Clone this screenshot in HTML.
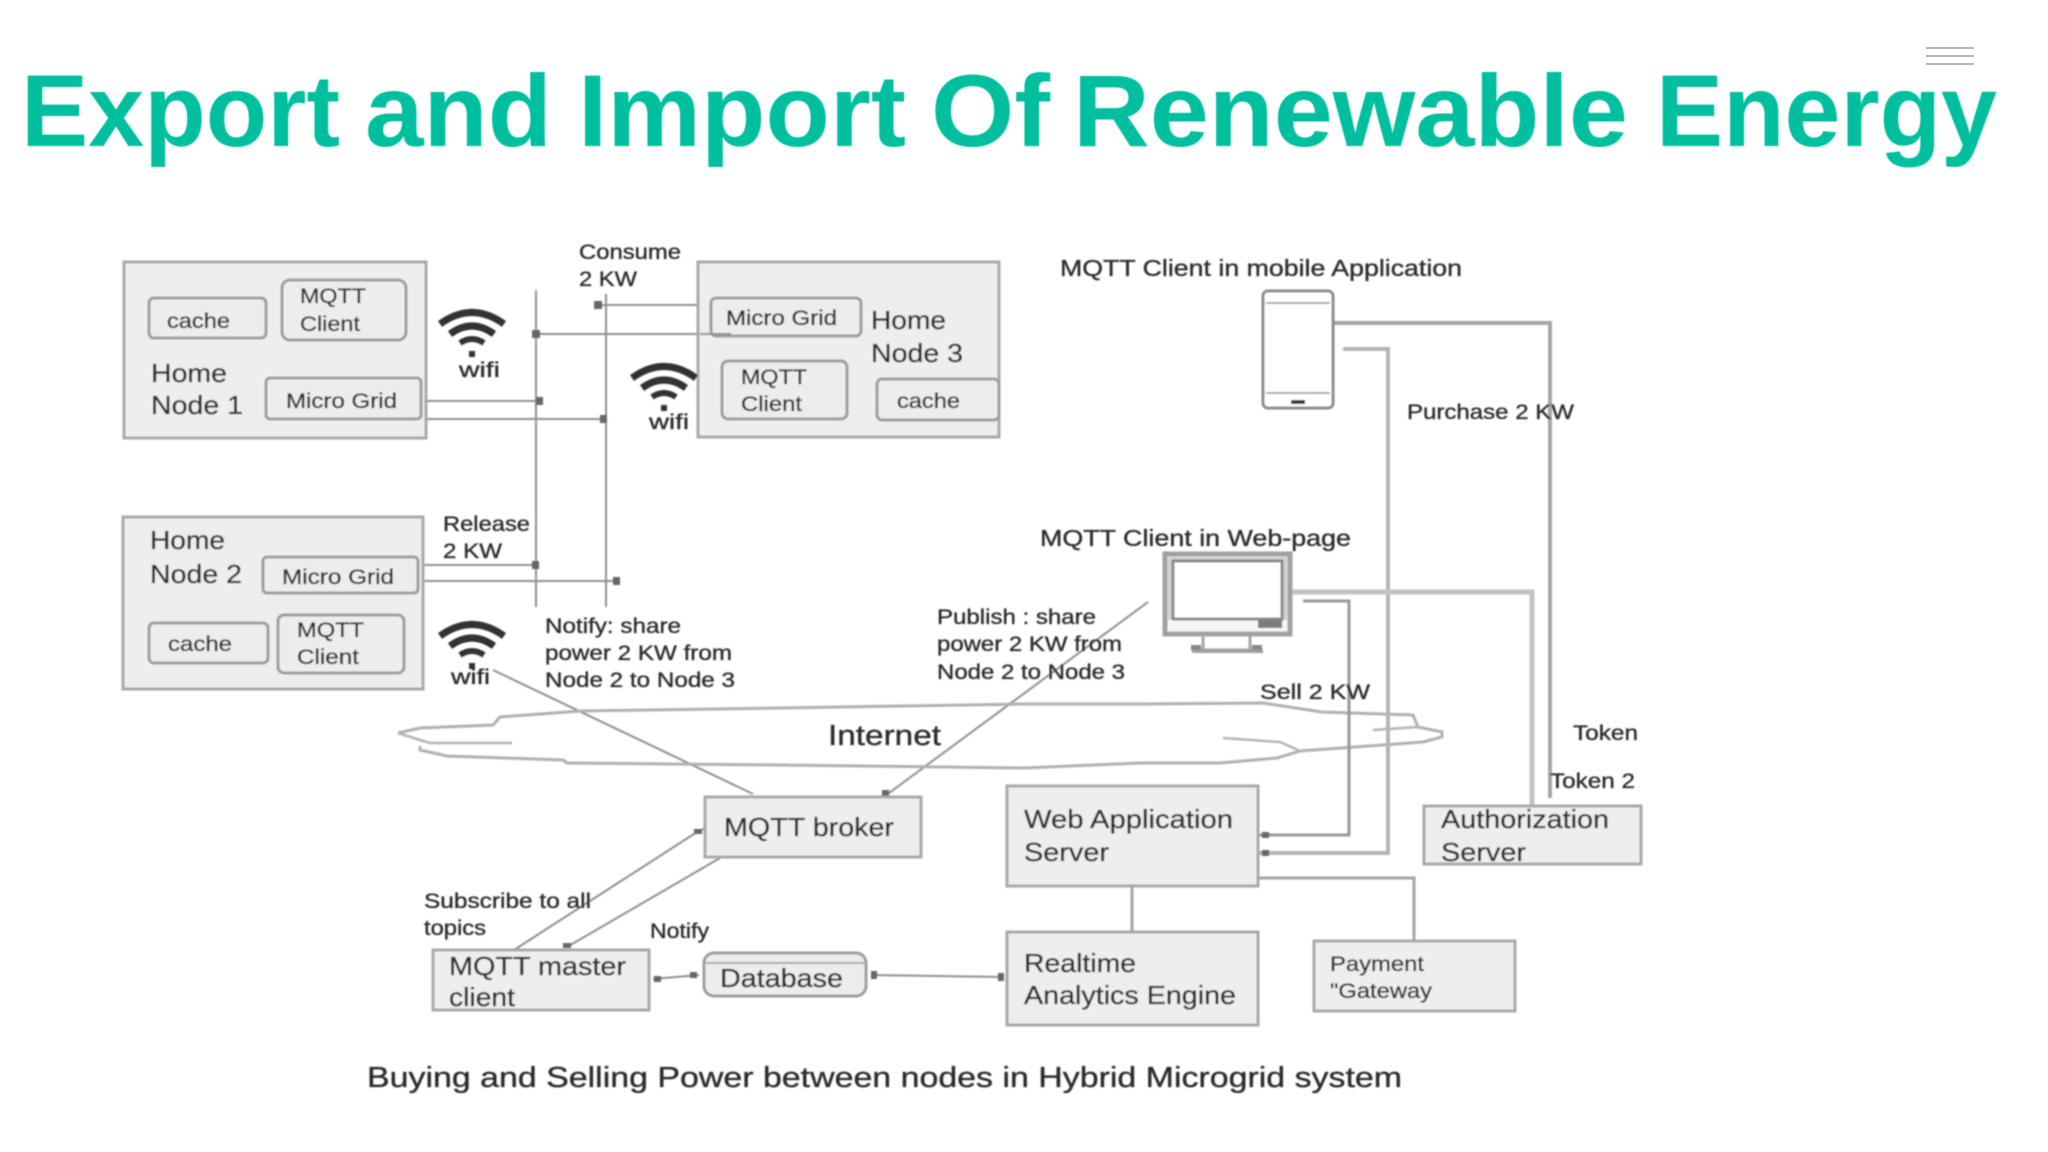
<!DOCTYPE html>
<html lang="en"><head><meta charset="utf-8"><title>Export and Import Of Renewable Energy</title>
<style>
html,body{margin:0;padding:0;background:#fff;width:2048px;height:1152px;overflow:hidden}
svg{display:block}
.t{font-family:"Liberation Sans",sans-serif;font-weight:bold;font-size:102px;fill:#00bf9f}
text{font-family:"Liberation Sans",sans-serif;fill:#333}
.d text{fill:#2a2a2a;stroke:#2a2a2a;stroke-width:.35}
.s{font-size:21px}.m{font-size:26px}.l{font-size:23px}
.b{fill:#eeeeee;stroke:#a8a8a8;stroke-width:3}
.c{fill:#ededed;stroke:#9c9c9c;stroke-width:3}
.ln{fill:none;stroke:#a5a5a5;stroke-width:3}
.th{fill:none;stroke:#8f8f8f;stroke-width:2}
.dk{fill:#666}
</style></head><body>
<svg width="2048" height="1152" viewBox="0 0 2048 1152" xmlns="http://www.w3.org/2000/svg">
<defs>
<filter id="bl" x="-2%" y="-2%" width="104%" height="104%"><feGaussianBlur stdDeviation="0.9"/></filter>
<filter id="bt" x="-2%" y="-5%" width="104%" height="110%"><feGaussianBlur stdDeviation="0.5"/></filter>
<g id="wifi" fill="none" stroke="#333" stroke-linecap="butt">
<path d="M-32 10 Q0 -13 32 10" stroke-width="7"/>
<path d="M-22 20 Q0 4 22 20" stroke-width="7"/>
<path d="M-12 29 Q0 21 12 29" stroke-width="6"/>
<rect x="-3" y="37" width="6" height="6" fill="#333" stroke="none"/>
</g>
</defs>
<g filter="url(#bt)">
<text class="t" x="21" y="146" textLength="319" lengthAdjust="spacingAndGlyphs">Export</text>
<text class="t" x="365" y="146" textLength="187" lengthAdjust="spacingAndGlyphs">and</text>
<text class="t" x="578" y="146" textLength="328" lengthAdjust="spacingAndGlyphs">Import</text>
<text class="t" x="931" y="146" textLength="119" lengthAdjust="spacingAndGlyphs">Of</text>
<text class="t" x="1073" y="146" textLength="555" lengthAdjust="spacingAndGlyphs">Renewable</text>
<text class="t" x="1656" y="146" textLength="341" lengthAdjust="spacingAndGlyphs">Energy</text>
</g>
<g stroke="#b5b5b5" stroke-width="2"><path d="M1938 48H1986M1938 56H1986M1938 64H1986" transform="translate(-12 0)"/></g>
<g filter="url(#bl)" class="d">
<!-- connectors behind boxes -->
<g class="th">
<path class="th" d="M536 290V607M606 294V607"/>
<path class="th" d="M712 305H598M536 334H731M421 401H539M421 419H604M418 565H536M418 581H617"/>
<path class="th" d="M493 670L753 794M1148 602L885 796M514 950L697 832L705 828M720 858L567 947"/>
<path class="th" d="M653 979L699 975M872 975L1003 977"/>
</g>
<g class="dk">
<rect x="594" y="301" width="8" height="8"/><rect x="532" y="330" width="8" height="8"/><rect x="536" y="397" width="7" height="8"/><rect x="600" y="415" width="7" height="8"/><rect x="532" y="561" width="7" height="8"/><rect x="613" y="577" width="7" height="8"/>
<rect x="882" y="790" width="7" height="7"/><rect x="694" y="829" width="8" height="5"/><rect x="563" y="943" width="8" height="5"/>
<rect x="654" y="976" width="7" height="6"/><rect x="690" y="972" width="7" height="6"/><rect x="871" y="971" width="6" height="8"/><rect x="998" y="973" width="6" height="8"/>
</g>
<!-- Node 1 -->
<rect class="b" x="124" y="262" width="302" height="176"/>
<rect class="c" x="149" y="298" width="117" height="40" rx="5"/>
<rect class="c" x="282" y="280" width="124" height="60" rx="8"/>
<rect class="c" x="266" y="378" width="155" height="41" rx="4"/>
<text class="s" x="167" y="328" textLength="63" lengthAdjust="spacingAndGlyphs">cache</text>
<text class="s" x="300" y="303" textLength="66" lengthAdjust="spacingAndGlyphs">MQTT</text>
<text class="s" x="300" y="331" textLength="60" lengthAdjust="spacingAndGlyphs">Client</text>
<text class="m" x="151" y="382" textLength="76" lengthAdjust="spacingAndGlyphs">Home</text>
<text class="m" x="151" y="414" textLength="92" lengthAdjust="spacingAndGlyphs">Node 1</text>
<text class="s" x="286" y="408" textLength="111" lengthAdjust="spacingAndGlyphs">Micro Grid</text>
<use href="#wifi" x="472" y="314"/>
<text class="s" x="459" y="377" textLength="41" lengthAdjust="spacingAndGlyphs">wifi</text>
<!-- Node 3 -->
<rect class="b" x="698" y="262" width="301" height="175"/>
<rect class="c" x="711" y="298" width="150" height="38" rx="5"/>
<rect class="c" x="722" y="361" width="125" height="58" rx="6"/>
<rect class="c" x="877" y="379" width="122" height="41" rx="5"/>
<path class="th" d="M700 334H731"/>
<text class="s" x="726" y="325" textLength="111" lengthAdjust="spacingAndGlyphs">Micro Grid</text>
<text class="m" x="871" y="329" textLength="75" lengthAdjust="spacingAndGlyphs">Home</text>
<text class="m" x="871" y="362" textLength="92" lengthAdjust="spacingAndGlyphs">Node 3</text>
<text class="s" x="741" y="384" textLength="66" lengthAdjust="spacingAndGlyphs">MQTT</text>
<text class="s" x="741" y="411" textLength="61" lengthAdjust="spacingAndGlyphs">Client</text>
<text class="s" x="897" y="408" textLength="63" lengthAdjust="spacingAndGlyphs">cache</text>
<use href="#wifi" x="664" y="368"/>
<text class="s" x="649" y="429" textLength="40" lengthAdjust="spacingAndGlyphs">wifi</text>
<!-- Node 2 -->
<rect class="b" x="123" y="517" width="300" height="172"/>
<rect class="c" x="263" y="557" width="155" height="36" rx="4"/>
<rect class="c" x="149" y="623" width="119" height="40" rx="5"/>
<rect class="c" x="278" y="615" width="126" height="58" rx="6"/>
<text class="m" x="150" y="549" textLength="75" lengthAdjust="spacingAndGlyphs">Home</text>
<text class="m" x="150" y="583" textLength="92" lengthAdjust="spacingAndGlyphs">Node 2</text>
<text class="s" x="282" y="584" textLength="112" lengthAdjust="spacingAndGlyphs">Micro Grid</text>
<text class="s" x="168" y="651" textLength="64" lengthAdjust="spacingAndGlyphs">cache</text>
<text class="s" x="297" y="637" textLength="67" lengthAdjust="spacingAndGlyphs">MQTT</text>
<text class="s" x="297" y="664" textLength="62" lengthAdjust="spacingAndGlyphs">Client</text>
<use href="#wifi" x="472" y="626"/>
<text class="s" x="451" y="684" textLength="39" lengthAdjust="spacingAndGlyphs">wifi</text>
<!-- labels top -->
<text class="s" x="579" y="259" textLength="102" lengthAdjust="spacingAndGlyphs">Consume</text>
<text class="s" x="579" y="286" textLength="58" lengthAdjust="spacingAndGlyphs">2 KW</text>
<text class="s" x="443" y="531" textLength="87" lengthAdjust="spacingAndGlyphs">Release</text>
<text class="s" x="443" y="558" textLength="59" lengthAdjust="spacingAndGlyphs">2 KW</text>
<text class="s" x="545" y="633" textLength="136" lengthAdjust="spacingAndGlyphs">Notify: share</text>
<text class="s" x="545" y="660" textLength="187" lengthAdjust="spacingAndGlyphs">power 2 KW from</text>
<text class="s" x="545" y="687" textLength="190" lengthAdjust="spacingAndGlyphs">Node 2 to Node 3</text>
<text class="s" x="937" y="624" textLength="159" lengthAdjust="spacingAndGlyphs">Publish : share</text>
<text class="s" x="937" y="651" textLength="185" lengthAdjust="spacingAndGlyphs">power 2 KW from</text>
<text class="s" x="937" y="679" textLength="188" lengthAdjust="spacingAndGlyphs">Node 2 to Node 3</text>
<!-- cloud -->
<path d="M398 733L420 728L493 725L500 717L580 711L780 708L1024 704L1140 704L1263 703L1322 712L1413 715L1418 727L1442 732V737L1423 742L1300 751L1277 758L1220 763L1140 763L1024 768L780 765L567 763L563 760L447 756L420 750V746" fill="none" stroke="#b0b0b0" stroke-width="3"/>
<path d="M398 733L420 740L430 743H512M1223 738L1280 742L1298 750M1373 730L1418 727" fill="none" stroke="#b4b4b4" stroke-width="2.5"/>
<text x="828" y="745" font-size="29" textLength="113" lengthAdjust="spacingAndGlyphs">Internet</text>
<!-- right lines -->
<path class="ln" d="M1333 323H1550V798" style="stroke-width:4"/>
<path class="ln" d="M1343 349H1388V853H1258" style="stroke:#b4b4b4;stroke-width:4"/>
<path class="ln" d="M1292 592H1532V806" style="stroke:#c2c2c2;stroke-width:5"/>
<path class="ln" d="M1303 601H1349V835H1258" style="stroke:#999"/>
<path class="ln" d="M1258 878H1414V942M1132 885V932"/>
<!-- broker & bottom -->
<rect class="b" x="705" y="797" width="216" height="60"/>
<text class="m" x="724" y="836" textLength="170" lengthAdjust="spacingAndGlyphs">MQTT broker</text>
<rect class="b" x="433" y="950" width="216" height="60"/>
<text class="m" x="449" y="975" textLength="177" lengthAdjust="spacingAndGlyphs">MQTT master</text>
<text class="m" x="449" y="1006" textLength="66" lengthAdjust="spacingAndGlyphs">client</text>
<rect class="c" x="704" y="953" width="162" height="43" rx="10"/>
<path d="M705 963H865" stroke="#aaa" stroke-width="2" fill="none"/>
<text class="m" x="720" y="987" textLength="123" lengthAdjust="spacingAndGlyphs">Database</text>
<text class="s" x="424" y="908" textLength="167" lengthAdjust="spacingAndGlyphs">Subscribe to all</text>
<text class="s" x="424" y="935" textLength="62" lengthAdjust="spacingAndGlyphs">topics</text>
<text class="s" x="650" y="938" textLength="59" lengthAdjust="spacingAndGlyphs">Notify</text>
<text x="367" y="1087" font-size="29" textLength="1035" lengthAdjust="spacingAndGlyphs">Buying and Selling Power between nodes in Hybrid Microgrid system</text>
<rect class="b" x="1007" y="786" width="251" height="100"/>
<rect class="dk" x="1262" y="832" width="7" height="6"/><rect class="dk" x="1262" y="850" width="7" height="6"/>
<text class="m" x="1024" y="828" textLength="209" lengthAdjust="spacingAndGlyphs">Web Application</text>
<text class="m" x="1024" y="861" textLength="85" lengthAdjust="spacingAndGlyphs">Server</text>
<rect class="b" x="1007" y="932" width="251" height="93"/>
<text class="m" x="1024" y="972" textLength="112" lengthAdjust="spacingAndGlyphs">Realtime</text>
<text class="m" x="1024" y="1004" textLength="212" lengthAdjust="spacingAndGlyphs">Analytics Engine</text>
<rect class="b" x="1314" y="941" width="201" height="70"/>
<text class="s" x="1330" y="971" textLength="94" lengthAdjust="spacingAndGlyphs">Payment</text>
<text class="s" x="1330" y="998" textLength="102" lengthAdjust="spacingAndGlyphs">"Gateway</text>
<rect class="b" x="1424" y="806" width="217" height="58"/>
<text class="m" x="1441" y="828" textLength="168" lengthAdjust="spacingAndGlyphs">Authorization</text>
<text class="m" x="1441" y="861" textLength="85" lengthAdjust="spacingAndGlyphs">Server</text>
<text class="s" x="1573" y="740" textLength="65" lengthAdjust="spacingAndGlyphs">Token</text>
<text class="s" x="1550" y="788" textLength="85" lengthAdjust="spacingAndGlyphs">Token 2</text>
<text class="s" x="1260" y="699" textLength="110" lengthAdjust="spacingAndGlyphs">Sell  2 KW</text>
<text class="l" x="1060" y="276" textLength="402" lengthAdjust="spacingAndGlyphs">MQTT Client in mobile Application</text>
<text class="s" x="1407" y="419" textLength="167" lengthAdjust="spacingAndGlyphs">Purchase 2 KW</text>
<text class="l" x="1040" y="546" textLength="311" lengthAdjust="spacingAndGlyphs">MQTT Client in Web-page</text>
<!-- phone -->
<rect x="1263" y="291" width="70" height="117" rx="5" fill="#fff" stroke="#8a8a8a" stroke-width="3"/>
<path d="M1266 303H1330M1266 393H1330" stroke="#aaa" stroke-width="2" fill="none"/>
<rect x="1291" y="400" width="14" height="4" fill="#333"/>
<!-- monitor -->
<rect x="1165" y="554" width="125" height="80" fill="#f5f5f5" stroke="#a0a0a0" stroke-width="5"/>
<path d="M1168 557H1287V620H1168Z" fill="#d0d0d0"/>
<rect x="1173" y="561" width="109" height="58" fill="#fff" stroke="#8a8a8a" stroke-width="3"/>
<rect x="1258" y="620" width="24" height="8" fill="#7c7c7c"/>
<path d="M1203 635V650H1250V635" fill="none" stroke="#a5a5a5" stroke-width="3"/>
<path d="M1192 651H1263" stroke="#a0a0a0" stroke-width="4"/>
<rect x="1191" y="645" width="10" height="5" fill="#888"/><rect x="1252" y="645" width="10" height="5" fill="#888"/>
</g>
</svg>
</body></html>
